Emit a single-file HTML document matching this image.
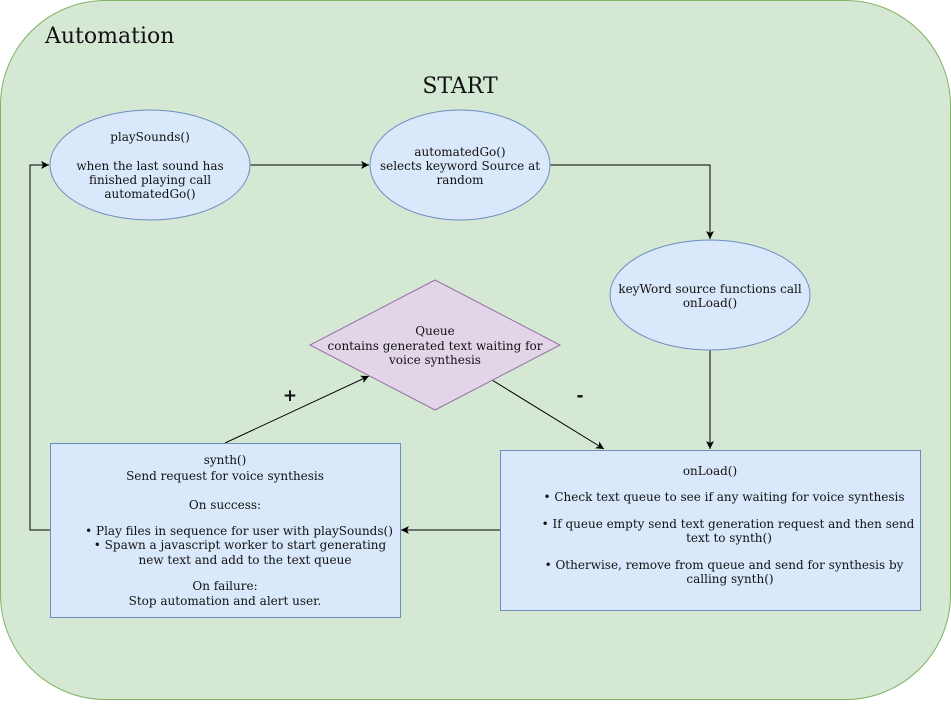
<!DOCTYPE html>
<html><head><meta charset="utf-8"><style>
html,body{margin:0;padding:0;background:#fff}
svg text{font-family:"DejaVu Serif","Liberation Serif",serif;font-size:12px;fill:#111}
</style></head><body>
<svg width="951" height="701" viewBox="0 0 951 701" xmlns="http://www.w3.org/2000/svg">
<defs><marker id="a" markerWidth="10" markerHeight="10" refX="8" refY="4" orient="auto" markerUnits="userSpaceOnUse"><path d="M0,0 L8,4 L0,8 L2,4 Z" fill="#000"/></marker></defs>
<rect x="0.5" y="0.5" width="950" height="699" rx="105" ry="105" fill="#d5e8d4" stroke="#82b366"/>
<text x="45" y="43" style="font-size:22px">Automation</text>
<text x="460" y="93" text-anchor="middle" style="font-size:22px">START</text>

<g stroke="#000" fill="none" stroke-width="1">
<path d="M250,165 L369,165" marker-end="url(#a)"/>
<path d="M550,165 L710,165 L710,239" marker-end="url(#a)"/>
<path d="M710,350 L710,449" marker-end="url(#a)"/>
<path d="M500,530 L401,530" marker-end="url(#a)"/>
<path d="M50,530 L30,530 L30,165 L49,165" marker-end="url(#a)"/>
<path d="M225,443 L369,376" marker-end="url(#a)"/>
<path d="M492,380 L604,449" marker-end="url(#a)"/>
</g>

<ellipse cx="150" cy="165" rx="100" ry="55" fill="#dae8fc" stroke="#6c8ebf"/>
<text text-anchor="middle"><tspan x="150" y="141">playSounds()</tspan><tspan x="150" y="170">when the last sound has</tspan><tspan x="150" y="184">finished playing call</tspan><tspan x="150" y="198">automatedGo()</tspan></text>

<ellipse cx="460" cy="165" rx="90" ry="55" fill="#dae8fc" stroke="#6c8ebf"/>
<text text-anchor="middle"><tspan x="460" y="156">automatedGo()</tspan><tspan x="460" y="170">selects keyword Source at</tspan><tspan x="460" y="184">random</tspan></text>

<ellipse cx="710" cy="295" rx="100" ry="55" fill="#dae8fc" stroke="#6c8ebf"/>
<text text-anchor="middle"><tspan x="710" y="293">keyWord source functions call</tspan><tspan x="710" y="307">onLoad()</tspan></text>

<polygon points="435,280 560,345 435,410 310,345" fill="#e1d5e7" stroke="#9673a6"/>
<text text-anchor="middle"><tspan x="435" y="335">Queue</tspan><tspan x="435" y="350">contains generated text waiting for</tspan><tspan x="435" y="364">voice synthesis</tspan></text>

<text x="290" y="401" text-anchor="middle" style="font-family:'DejaVu Sans',sans-serif;font-size:17px;font-weight:bold">+</text>
<text x="580" y="401" text-anchor="middle" style="font-family:'DejaVu Sans',sans-serif;font-size:17px;font-weight:bold">-</text>

<rect x="50.5" y="443.5" width="350" height="174" fill="#dae8fc" stroke="#6c8ebf"/>
<text text-anchor="middle"><tspan x="225" y="464">synth()</tspan><tspan x="225" y="480">Send request for voice synthesis</tspan><tspan x="225" y="509">On success:</tspan><tspan x="239" y="535">• Play files in sequence for user with playSounds()</tspan><tspan x="240" y="549">• Spawn a javascript worker to start generating</tspan><tspan x="245" y="564">new text and add to the text queue</tspan><tspan x="225" y="590">On failure:</tspan><tspan x="225" y="605">Stop automation and alert user.</tspan></text>

<rect x="500.5" y="450.5" width="420" height="160" fill="#dae8fc" stroke="#6c8ebf"/>
<text text-anchor="middle"><tspan x="710" y="475">onLoad()</tspan><tspan x="724" y="501">• Check text queue to see if any waiting for voice synthesis</tspan><tspan x="728" y="528">• If queue empty send text generation request and then send</tspan><tspan x="729" y="542">text to synth()</tspan><tspan x="724" y="569">• Otherwise, remove from queue and send for synthesis by</tspan><tspan x="730" y="583">calling synth()</tspan></text>
</svg>
</body></html>
